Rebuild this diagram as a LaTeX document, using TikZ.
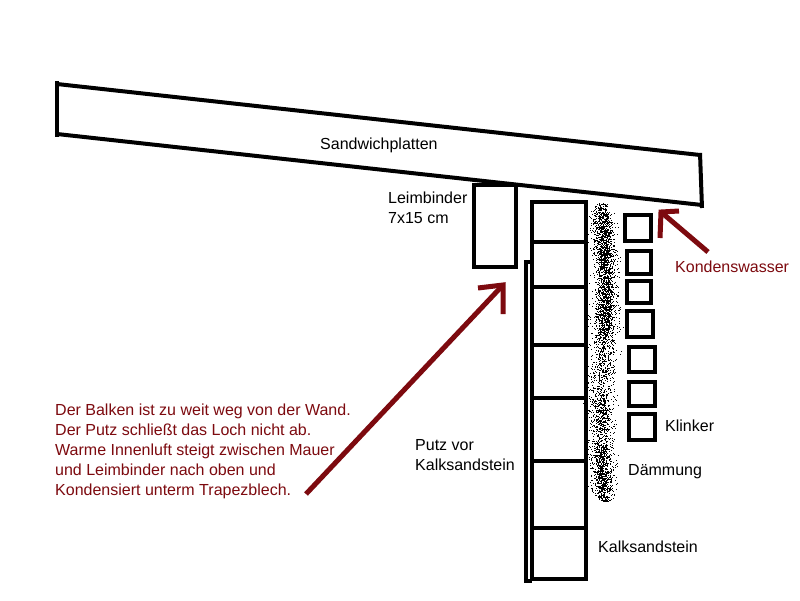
\documentclass[tikz,border=0pt]{standalone}
\usepackage{fontspec}
\setmainfont{Liberation Sans}
\definecolor{anmerkung}{RGB}{125,10,15}
\tikzset{
  bauteil/.style = {draw, line width = 4pt, line join = miter},
  pfeil/.style = {draw = anmerkung, line width = 5pt},
  schrift/.style = {anchor = west, inner sep = 0pt, align = left, font = \fontsize{16}{20}\selectfont},
  rottext/.style = {schrift, text = anmerkung}
}
\begin{document}
\begin{tikzpicture}[x = 1pt, y = -1pt]
\useasboundingbox (0,0) rectangle (800,600);
\fill[white] (0,0) rectangle (800,600);
%Dach
\draw[bauteil] (57,84) -- (700,155);
\draw[bauteil] (57,134) -- (702,205);
\draw[bauteil] (57,81) -- (57,137);
\draw[bauteil] (700,153) -- (702,208);
\draw[bauteil] (473.5,185) rectangle (515.5,267);
\draw[bauteil] (532,202) rectangle (586,579);
\foreach \ypos in {242,287,345,398,461,528}
  \draw[bauteil] (532,\ypos) -- (586,\ypos);
\draw[bauteil] (532,262) -- (525.5,262) -- (525.5,581) -- (532,581);
%Klinker: left, top, right, bottom
\foreach \xa/\ya/\xb/\yb in {625/215/651/241, 627/251/651/274, 627/281/651/303, 627/311/653/337, 629/347/655/372, 629/382/655/406, 629/414/655/440}
  \draw[bauteil] (\xa,\ya) rectangle (\xb,\yb);
%Daemmung: ymin, ymax, spread, number of dots
\pgfmathsetseed{4711}
\foreach \ya/\yb/\spread/\anzahl in {203/502/6.5/2700, 212/335/3.6/1000, 445/490/3.0/220, 400/425/3.0/70} {
  \foreach \i in {1,...,\anzahl} {
    \pgfmathsetmacro{\ydot}{\ya + (\yb-\ya)*rnd}
    \pgfmathsetmacro{\taper}{min(1,0.4 + min(\ydot-203,502-\ydot)/22)}
    \pgfmathsetmacro{\xdot}{603 + 2.5*sin((\ydot-230)*1.4) + \taper*\spread*(rand + rand + rand)}
    \fill[black] ({round(\xdot)},{round(\ydot)}) rectangle ++(1.3,1.3);
  }
}
\node[schrift] (sandwich) at (320,145) {Sandwichplatten};
\node[schrift] (leimbinder) at (388,208) {Leimbinder\\7x15 cm};
\node[rottext] (kondens) at (675,267) {Kondenswasser};
\node[schrift] (klinker) at (665,426) {Klinker};
\node[schrift] (daemmung) at (628,472) {Dämmung};
\node[schrift] (kalk) at (598,547) {Kalksandstein};
\node[schrift] (putz) at (415,455) {Putz vor\\Kalksandstein};
\node[rottext] (balken) at (55,451) {Der Balken ist zu weit weg von der Wand.\\Der Putz schließt das Loch nicht ab.\\Warme Innenluft steigt zwischen Mauer\\und Leimbinder nach oben und\\Kondensiert unterm Trapezblech.};
\coordinate (spalt) at (503,285);
\coordinate (balkenende) at (306,494);
\coordinate (tropfen) at (661,212);
\coordinate (kondensende) at (708,252);
\draw[pfeil] (balkenende) -- (spalt);
\draw[pfeil] (478,288) -- (spalt) -- (503,314);
\draw[pfeil] (kondensende) -- (tropfen);
\draw[pfeil] (679,211) -- (tropfen) -- (660,238);
\end{tikzpicture}
\end{document}
